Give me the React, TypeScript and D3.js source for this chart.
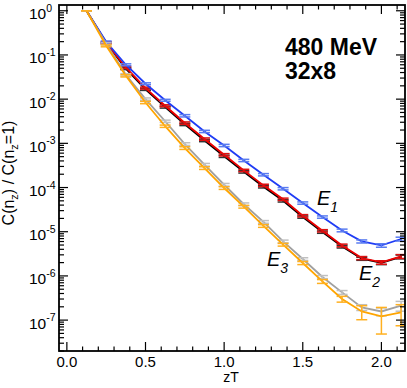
import React from "react";
import * as d3 from "d3";

const zT = [0.125, 0.25, 0.375, 0.5, 0.625, 0.75, 0.875, 1.0, 1.125, 1.25, 1.375, 1.5, 1.625, 1.75, 1.875, 2.0, 2.125];

const blueE1 = [1, 0.199, 0.060, 0.0223, 0.00944, 0.00421, 0.00186, 8.95e-4, 4.10e-4, 1.95e-4, 9.4e-5, 4.46e-5, 2.15e-5, 1.07e-5, 6.04e-6, 4.9e-6, 6.84e-6];
const redE2 = [1, 0.189, 0.0521, 0.0178, 0.0071, 0.00288, 0.00125, 5.52e-4, 2.44e-4, 1.12e-4, 5.43e-5, 2.3e-5, 1.05e-5, 4.9e-6, 2.54e-6, 2.02e-6, 2.76e-6];
const blackSeries = [1, 0.186, 0.049, 0.0166, 0.0066, 0.00268, 0.00116, 5.1e-4, 2.26e-4, 1.04e-4, 5.0e-5, 2.15e-5, 9.8e-6, 4.6e-6, 2.45e-6, 1.98e-6, 2.7e-6];
const grayE3 = [1, 0.179, 0.0356, 0.01005, 0.00316, 9.64e-4, 3.28e-4, 1.156e-4, 4.19e-5, 1.67e-5, 6.04e-6, 2.41e-6, 9.44e-7, 4.24e-7, 1.94e-7, 1.57e-7, 2.12e-7];
const orangeSeries = [1, 0.161, 0.0338, 0.0084, 0.00244, 7.83e-4, 2.76e-4, 9.75e-5, 3.68e-5, 1.35e-5, 5.08e-6, 1.96e-6, 7.52e-7, 3.0e-7, 1.57e-7, 1.21e-7, 1.49e-7];

// relative errors
const blueErr = [0, 0.04, 0.05, 0.05, 0.05, 0.06, 0.06, 0.06, 0.06, 0.06, 0.06, 0.06, 0.06, 0.07, 0.08, 0.09, 0.1];
const redErr = [0, 0.04, 0.05, 0.05, 0.05, 0.06, 0.06, 0.06, 0.06, 0.06, 0.06, 0.06, 0.06, 0.07, 0.08, 0.09, 0.1];
const blackErr = [0, 0.04, 0.05, 0.05, 0.05, 0.06, 0.06, 0.06, 0.06, 0.06, 0.06, 0.06, 0.06, 0.07, 0.08, 0.09, 0.1];
const grayErr = [0, 0.05, 0.06, 0.06, 0.06, 0.07, 0.07, 0.07, 0.07, 0.07, 0.07, 0.07, 0.08, 0.1, 0.15, 0.2, 0.25];
const orangeErr = [0, 0.05, 0.06, 0.06, 0.06, 0.07, 0.07, 0.07, 0.07, 0.07, 0.07, 0.08, 0.1, 0.15, 0.35, 0.6, 0.5];

const xTickMajor = [0, 0.5, 1.0, 1.5, 2.0];
const xTickLabels = ["0.0", "0.5", "1.0", "1.5", "2.0"];
const yDecades = [0, -1, -2, -3, -4, -5, -6, -7];

const W = 407, H = 388;
const L = 59, R = 405, T = 5, B = 351;

const x = d3.scaleLinear().domain([-0.05, 2.15]).range([L, R]);
const y = d3.scaleLog().domain([2e-8, 1.35]).range([B, T]);

const FONT = "'Liberation Sans', Arial, Helvetica, sans-serif";

type S = { vals: number[]; err: number[]; color: string; errColor: string };

const seriesList: S[] = [
  { vals: blackSeries, err: blackErr, color: "#000000", errColor: "#333333" },
  { vals: redE2, err: redErr, color: "#ee0000", errColor: "#dd1111" },
  { vals: blueE1, err: blueErr, color: "#1f3cf5", errColor: "#5a7cf0" },
  { vals: grayE3, err: grayErr, color: "#a0a0a0", errColor: "#c0c0c0" },
  { vals: orangeSeries, err: orangeErr, color: "#ffa500", errColor: "#ffb020" },
];

export default function App() {
  const line = d3
    .line<number>()
    .x((_, i) => x(zT[i]))
    .y((v) => y(v));

  const minorX = d3.range(0, 22).map((k) => k / 10).filter((v) => v <= 2.15);
  const minorY: number[] = [];
  for (let d = -8; d <= 0; d++) {
    for (let k = 2; k <= 9; k++) {
      const v = k * Math.pow(10, d);
      if (v >= 2e-8 && v <= 1.35) minorY.push(v);
    }
  }

  return (
    <svg width={W} height={H} style={{ position: "absolute", left: 0, top: 0, background: "#fff" }}>
      <rect x={0} y={0} width={W} height={H} fill="#fff" />
      <defs>
        <clipPath id="plot">
          <rect x={L} y={T} width={R - L} height={B - T} />
        </clipPath>
      </defs>
      <g clipPath="url(#plot)">
        {seriesList.map((s, si) => (
          <g key={si}>
            <path d={line(s.vals) || ""} fill="none" stroke={s.color} strokeWidth={1.8} />
            {s.vals.map((v, i) => {
              const e = s.err[i] * v;
              const cx = x(zT[i]);
              const y1 = y(v + e);
              const y2 = y(Math.max(v - e, 1e-12));
              const hw = 5.5;
              return (
                <g key={i} stroke={s.errColor} strokeWidth={1.5}>
                  <line x1={cx} x2={cx} y1={y1} y2={y2} />
                  <line x1={cx - hw} x2={cx + hw} y1={y1} y2={y1} />
                  <line x1={cx - hw} x2={cx + hw} y1={y2} y2={y2} />
                </g>
              );
            })}
          </g>
        ))}
      </g>

      {/* ticks */}
      <g stroke="#000" strokeWidth={1.2}>
        {minorX.map((v, i) => {
          const major = xTickMajor.some((m) => Math.abs(m - v) < 1e-9);
          const len = major ? 9 : 4.5;
          return (
            <g key={"xt" + i}>
              <line x1={x(v)} x2={x(v)} y1={B} y2={B - len} />
              <line x1={x(v)} x2={x(v)} y1={T} y2={T + len} />
            </g>
          );
        })}
        {minorY.map((v, i) => (
          <g key={"ym" + i}>
            <line x1={L} x2={L + 5} y1={y(v)} y2={y(v)} />
            <line x1={R} x2={R - 5} y1={y(v)} y2={y(v)} />
          </g>
        ))}
        {yDecades.map((d) => (
          <g key={"yM" + d}>
            <line x1={L} x2={L + 9} y1={y(Math.pow(10, d))} y2={y(Math.pow(10, d))} />
            <line x1={R} x2={R - 9} y1={y(Math.pow(10, d))} y2={y(Math.pow(10, d))} />
          </g>
        ))}
      </g>
      <rect x={L} y={T} width={R - L} height={B - T} fill="none" stroke="#000" strokeWidth={1.8} />

      {/* y tick labels */}
      {yDecades.map((d) => (
        <text key={"yl" + d} x={29} y={y(Math.pow(10, d)) + 8.5} fontFamily={FONT} fontSize={15.5} fill="#000">
          10
          <tspan fontSize={10.5} dy={-7.5}>{String(d)}</tspan>
        </text>
      ))}

      {/* x tick labels */}
      {xTickMajor.map((v, i) => (
        <text key={"xl" + i} x={x(v)} y={366.5} textAnchor="middle" fontFamily={FONT} fontSize={15} fill="#000">
          {xTickLabels[i]}
        </text>
      ))}
      <text x={231} y={381.5} textAnchor="middle" fontFamily={FONT} fontSize={14} fill="#000">zT</text>

      <text transform="translate(14,173) rotate(-90)" textAnchor="middle" fontFamily={FONT} fontSize={16} fill="#000">
        C(n<tspan fontSize={11} dy={4}>z</tspan><tspan dy={-4}>) / C(n</tspan><tspan fontSize={11} dy={4}>z</tspan><tspan dy={-4}>=1)</tspan>
      </text>

      <text x={285} y={55} fontFamily={FONT} fontSize={23} fontWeight="bold" fill="#000">480 MeV</text>
      <text x={285} y={79} fontFamily={FONT} fontSize={23} fontWeight="bold" fill="#000">32x8</text>

      <text x={317} y={205} fontFamily={FONT} fontSize={20} fontStyle="italic" fill="#000">
        E<tspan fontSize={14} dy={7}>1</tspan>
      </text>
      <text x={359} y={280} fontFamily={FONT} fontSize={20} fontStyle="italic" fill="#000">
        E<tspan fontSize={14} dy={7}>2</tspan>
      </text>
      <text x={267} y={266} fontFamily={FONT} fontSize={20} fontStyle="italic" fill="#000">
        E<tspan fontSize={14} dy={7}>3</tspan>
      </text>
    </svg>
  );
}
